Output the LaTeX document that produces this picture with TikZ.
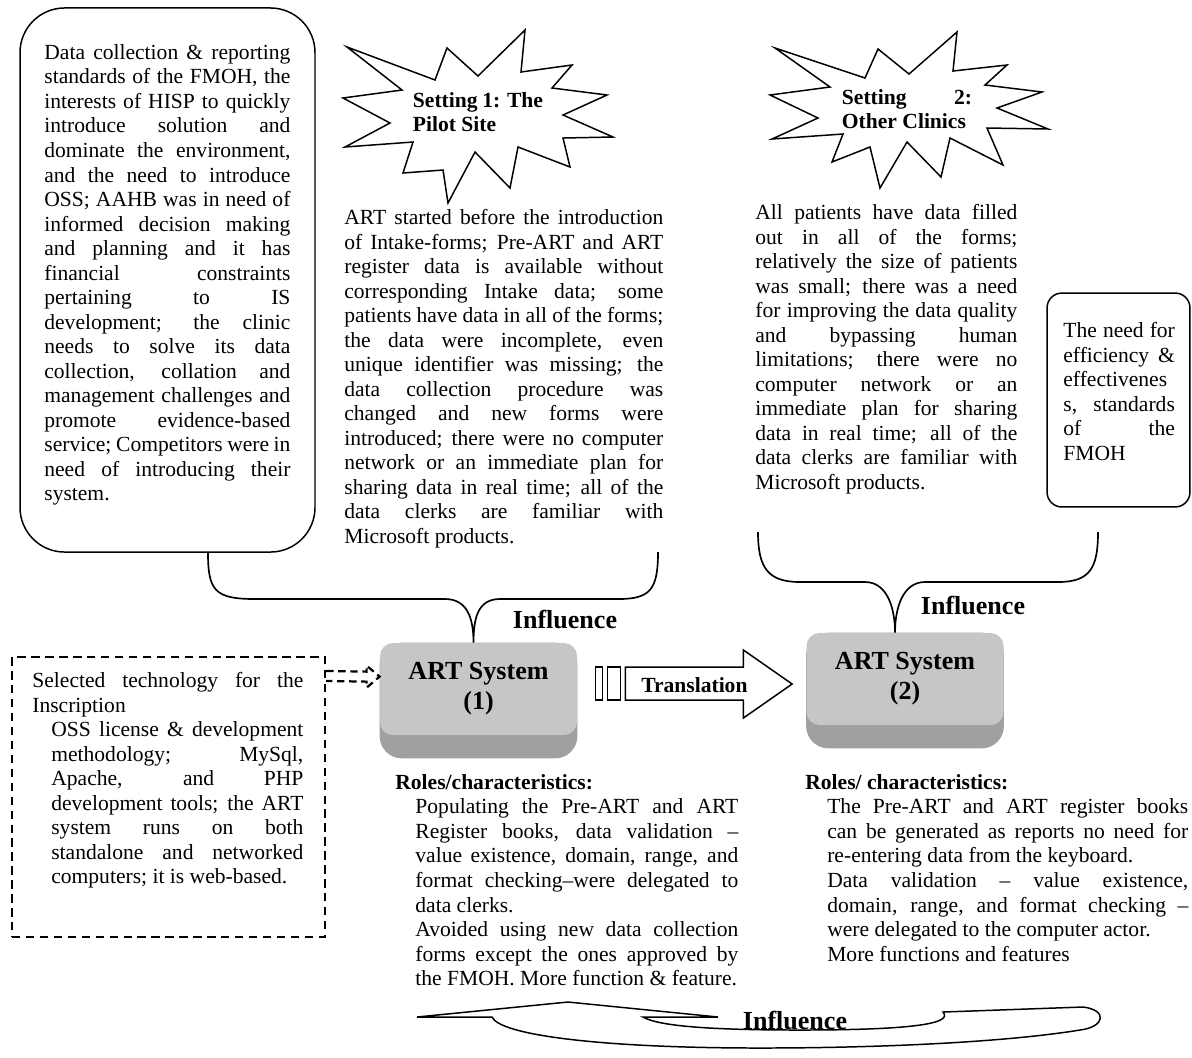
\documentclass[tikz,border=0pt]{standalone}
\usepackage{fontspec}
\setmainfont{Liberation Serif}
\usetikzlibrary{calc, backgrounds}
\setlength{\parindent}{0pt}
\hbadness=10000
\hfuzz=20pt
\tolerance=10000
\hyphenpenalty=10000
\exhyphenpenalty=10000
\definecolor{facegray}{RGB}{198,198,198}
\definecolor{bandgray}{RGB}{160,160,160}
\newcommand{\bodyfont}{\fontsize{11.6pt}{13.2pt}\selectfont}
\tikzset{
    bodytext/.style={anchor=north west, inner sep=0pt, align=justify, font=\bodyfont},
    roundbox/.style={rectangle, draw, line width=0.8pt},
    burst/.style={draw, line width=0.8pt},
    burstlabel/.style={inner sep=0pt, text width=70pt, align=justify, font=\bodyfont\bfseries},
    artface/.style={rectangle, rounded corners=7pt, fill=facegray, minimum width=106pt,
                    minimum height=49.5pt, align=center, font=\fontsize{14pt}{16pt}\selectfont\bfseries},
    artband/.style={fill=bandgray, rounded corners=12pt},
    brace/.style={line width=0.9pt},
    inflabel/.style={inner sep=0pt, font=\fontsize{14pt}{16pt}\selectfont\bfseries},
    techbox/.style={rectangle, draw, line width=1.2pt, dash pattern=on 4.5pt off 3pt,
                    minimum width=168.4pt, minimum height=150.6pt},
    dashconn/.style={line width=1.2pt, dash pattern=on 4pt off 2.5pt},
    blockarrow/.style={draw, line width=0.8pt, fill=white},
}
\begin{document}
\begin{tikzpicture}[x=0.538pt, y=-0.538pt]
    \useasboundingbox (0,0) rectangle (1192,1057);

    % context of the pilot
    \node[roundbox, rounded corners=24pt, minimum width=158.7pt, minimum height=292.7pt] (leftbox)
        at (167.5,280) {};
    \node[bodytext, text width=132.4pt] (lefttext) at (44,44)
        {Data collection \& reporting\linebreak
         standards of the FMOH, the\linebreak
         interests of HISP to quickly\linebreak
         introduce solution and\linebreak
         dominate the environment,\linebreak
         and the need to introduce\linebreak
         OSS; AAHB was in need of\linebreak
         informed decision making\linebreak
         and planning and it has\linebreak
         financial constraints\linebreak
         pertaining to IS\linebreak
         development; the clinic\linebreak
         needs to solve its data\linebreak
         collection, collation and\linebreak
         management challenges and\linebreak
         promote evidence-based\linebreak
         service; Competitors were in\linebreak
         need of introducing their\linebreak
         system.};

    % setting 1
    \draw[burst] (347,47) -- (435,80) -- (447,48) -- (478,76) -- (525,30) -- (521,72)
        -- (572,65) -- (552,88) -- (607,95) -- (563,115) -- (613,137) -- (563,138)
        -- (570,167) -- (518,147) -- (510,188) -- (475,152) -- (448,203) -- (443,170)
        -- (403,173) -- (413,142) -- (345,147) -- (390,123) -- (343,98) -- (402,90) -- cycle;
    \node[burstlabel] (pilotlabel) at (478,112) {Setting 1: The\linebreak Pilot Site};
    \node[bodytext, text width=171.6pt] (pilottext) at (344,209)
        {ART started before the introduction\linebreak
         of Intake-forms; Pre-ART and ART\linebreak
         register data is available without\linebreak
         corresponding Intake data; some\linebreak
         patients have data in all of the forms;\linebreak
         the data were incomplete, even\linebreak
         unique identifier was missing; the\linebreak
         data collection procedure was\linebreak
         changed and new forms were\linebreak
         introduced; there were no computer\linebreak
         network or an immediate plan for\linebreak
         sharing data in real time; all of the\linebreak
         data clerks are familiar with\linebreak
         Microsoft products.};

    % setting 2
    \draw[burst] (775,48) -- (865,78) -- (878,49) -- (909,74) -- (957,32) -- (953,71)
        -- (1007,65) -- (985,85) -- (1042,92) -- (997,108) -- (1048,129) -- (987,128)
        -- (1003,165) -- (950,138) -- (941,177) -- (907,142) -- (880,188) -- (870,147)
        -- (832,162) -- (843,134) -- (772,139) -- (818,118) -- (770,95) -- (830,87) -- cycle;
    \node[burstlabel] (cliniclabel) at (907,109) {Setting 2:\linebreak Other Clinics};
    \node[bodytext, text width=141pt] (clinictext) at (755,204)
        {All patients have data filled\linebreak
         out in all of the forms;\linebreak
         relatively the size of patients\linebreak
         was small; there was a need\linebreak
         for improving the data quality\linebreak
         and bypassing human\linebreak
         limitations; there were no\linebreak
         computer network or an\linebreak
         immediate plan for sharing\linebreak
         data in real time; all of the\linebreak
         data clerks are familiar with\linebreak
         Microsoft products.};

    \node[roundbox, rounded corners=8pt, minimum width=76.9pt, minimum height=115.1pt] (needbox)
        at (1118.5,400) {};
    \node[bodytext, text width=60pt] (needtext) at (1063,322)
        {The need for\linebreak efficiency \&\linebreak effectivenes\linebreak
         s, standards\linebreak of the\linebreak FMOH};

    % the two systems
    \node[artface] (art1) at (478.5,689) {ART System\\(1)};
    \node[artface] (art2) at (905,679) {ART System\\(2)};
    \begin{scope}[on background layer]
        \fill[artband] (art1.north west) rectangle ($(art1.south east)+(0,23)$);
        \fill[artband] (art2.north west) rectangle ($(art2.south east)+(0,23)$);
    \end{scope}

    % influence braces
    \coordinate (b1l) at ($(leftbox.south)+(40.5,0)$);
    \coordinate (b1r) at (658,552);
    \draw[brace] (b1l) .. controls +(0,38) and +(-40,0) .. (255,599) -- (445,599)
        .. controls +(22,0) and +(0,-25) .. ($(art1.north)+(-5,0)$)
        .. controls +(0,-25) and +(-22,0) .. (500,599) -- (618,599)
        .. controls +(32,0) and +(0,38) .. (b1r);
    \node[inflabel] (inf1) at (565,619) {Influence};

    \coordinate (b2l) at (758,532);
    \coordinate (b2r) at (1098,532);
    \draw[brace] (b2l) .. controls +(0,36) and +(-32,0) .. (800,582) -- (865,582)
        .. controls +(22,0) and +(0,-25) .. ($(art2.north)+(-10,0)$)
        .. controls +(0,-25) and +(-22,0) .. (925,582) -- (1058,582)
        .. controls +(32,0) and +(0,36) .. (b2r);
    \node[inflabel] (inf2) at (973,605) {Influence};

    % roles
    \node[bodytext, text width=184.5pt] (roles1) at (395,774)
        {\textbf{Roles/characteristics:}\par\leftskip=10.8pt
         Populating the Pre-ART and ART\linebreak
         Register books, data validation –\linebreak
         value existence, domain, range, and\linebreak
         format checking–were delegated to\linebreak
         data clerks.\par
         Avoided using new data collection\linebreak
         forms except the ones approved by\linebreak
         the FMOH. More function \& feature.\par};
    \node[bodytext, text width=206pt] (roles2) at (805,774)
        {\textbf{Roles/ characteristics:}\par\leftskip=11.8pt
         The Pre-ART and ART register books\linebreak
         can be generated as reports no need for\linebreak
         re-entering data from the keyboard.\par
         Data validation – value existence,\linebreak
         domain, range, and format checking –\linebreak
         were delegated to the computer actor.\par
         More functions and features\par};

    % technology
    \node[techbox] (tech) at (168.5,797) {};
    \node[bodytext, text width=145.8pt] (techtext) at (32,672)
        {Selected technology for the\linebreak Inscription\par\leftskip=10.2pt
         OSS license \& development\linebreak
         methodology; MySql,\linebreak
         Apache, and PHP\linebreak
         development tools; the ART\linebreak
         system runs on both\linebreak
         standalone and networked\linebreak
         computers; it is web-based.\par};
    \draw[dashconn] ($(tech.north east)+(0,15)$) -- ($(art1.north west)+(-13,29)$) -- ++(0,-6)
        -- ($(art1.north west)+(0,34)$) -- ++(-13,11) -- ++(0,-6) -- ($(tech.north east)+(0,25)$);

    % translation
    \coordinate (trs) at ($(art1.east)+(18,-5)$);
    \draw[line width=0.8pt] ($(trs)+(0,-17)$) rectangle ++(7,33);
    \draw[line width=0.8pt] ($(trs)+(12,-17)$) rectangle ++(13,33);
    \draw[blockarrow] ($(trs)+(30,-17)$) -- ($(trs)+(148,-17)$) -- ($(trs)+(148,-34)$)
        -- ($(art2.west)+(-14,5)$) -- ($(trs)+(148,34)$) -- ($(trs)+(148,16)$)
        -- ($(trs)+(30,16)$) -- cycle;
    \node[font=\bodyfont\bfseries, inner sep=0pt] (trlabel) at ($(trs)+(99,1)$) {Translation};

    % influence back from setting 2 to setting 1
    \draw[blockarrow] (417,1017) -- (568,1002) -- (718,1017) -- (643,1017)
        .. controls (660,1027) and (720,1030) .. (800,1030)
        .. controls (900,1030) and (955,1025) .. (943,1012)
        -- (1083,1007) .. controls (1108,1010) and (1105,1027) .. (1080,1030)
        .. controls (1000,1043) and (870,1048) .. (760,1048)
        .. controls (600,1048) and (500,1035) .. (492,1017) -- cycle;
    \node[inflabel] (inf3) at (795,1020) {Influence};

\end{tikzpicture}
\end{document}
